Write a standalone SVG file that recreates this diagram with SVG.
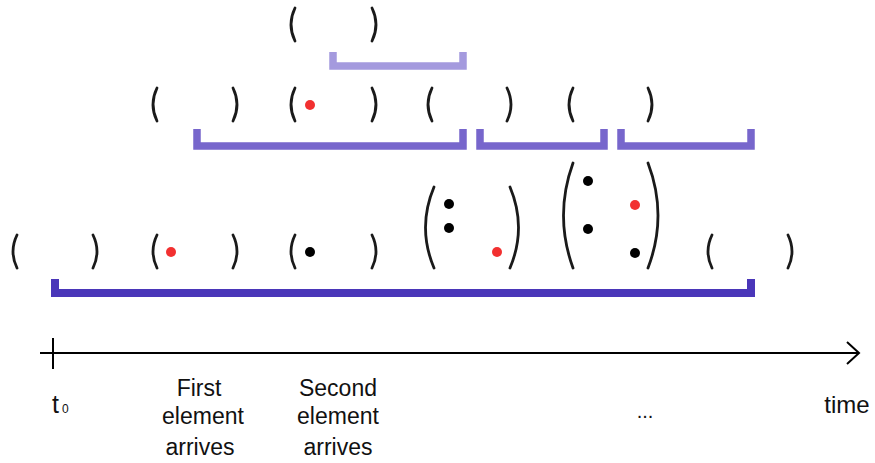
<svg xmlns="http://www.w3.org/2000/svg" width="875" height="463" viewBox="0 0 875 463">
<style>
.p{fill:none;stroke:#1a1a1a;stroke-width:2.8;stroke-linecap:round}
.br{fill:none;stroke-linejoin:miter;stroke-linecap:butt}
.b1{stroke:#4a36b9;stroke-width:8}
.b2{stroke:#7766cc;stroke-width:7.5}
.b3{stroke:#a49ade;stroke-width:7.5}
.k{fill:#000}
.r{fill:#f23030}
.t{font-family:"Liberation Sans",Arial,sans-serif;font-size:23px;fill:#111;text-anchor:middle}
.ax{fill:none;stroke:#000;stroke-width:2}
</style>
<rect width="875" height="463" fill="#fff"/>
<g id="row-top">
<path class="p" d="M295,8 Q287,24.5 295,41"/>
<path class="p" d="M372,8 Q380,24.5 372,41"/>
</g>
<g id="row-middle">
<path class="p" d="M157,88 Q149,104.5 157,121"/>
<path class="p" d="M233,88 Q241,104.5 233,121"/>
<path class="p" d="M295,88 Q287,104.5 295,121"/>
<circle class="r" cx="310" cy="105" r="5"/>
<path class="p" d="M372,88 Q380,104.5 372,121"/>
<path class="p" d="M432,88 Q424,104.5 432,121"/>
<path class="p" d="M507,88 Q515,104.5 507,121"/>
<path class="p" d="M573,88 Q565,104.5 573,121"/>
<path class="p" d="M648,88 Q656,104.5 648,121"/>
</g>
<g id="row-bottom">
<path class="p" d="M17,235 Q9,251.5 17,268"/>
<path class="p" d="M93,235 Q101,251.5 93,268"/>
<path class="p" d="M157,235 Q149,251.5 157,268"/>
<circle class="r" cx="171" cy="252" r="5"/>
<path class="p" d="M233,235 Q241,251.5 233,268"/>
<path class="p" d="M295,235 Q287,251.5 295,268"/>
<circle class="k" cx="310" cy="252" r="5"/>
<path class="p" d="M372,235 Q380,251.5 372,268"/>
<path class="p" d="M434,187 Q417,227.5 434,268"/>
<circle class="k" cx="449" cy="204" r="5"/>
<circle class="k" cx="449" cy="228" r="5"/>
<circle class="r" cx="497" cy="252" r="5"/>
<path class="p" d="M510,187 Q527,227.5 510,268"/>
<path class="p" d="M573,163 Q554,215.5 573,268"/>
<circle class="k" cx="588" cy="181" r="5"/>
<circle class="k" cx="588" cy="229" r="5"/>
<circle class="r" cx="635" cy="205" r="5"/>
<circle class="k" cx="635" cy="253" r="5"/>
<path class="p" d="M648,163 Q668,215.5 648,268"/>
<path class="p" d="M712,235 Q704,251.5 712,268"/>
<path class="p" d="M788,235 Q796,251.5 788,268"/>
</g>
<g id="brackets">
<path class="br b3" d="M333,52 V66 H463 V52"/>
<path class="br b2" d="M197,129 V146 H463 V129"/>
<path class="br b2" d="M480,129 V146 H604 V129"/>
<path class="br b2" d="M621,129 V146 H751 V129"/>
<path class="br b1" d="M55,279 V293 H751 V279"/>
</g>
<g id="axis">
<line class="ax" x1="40" y1="353" x2="859" y2="353"/>
<line class="ax" x1="53" y1="338" x2="53" y2="369"/>
<path class="ax" d="M847,342 L859,353 L847,364"/>
</g>
<g id="labels">
<text class="t" x="52" y="413" style="text-anchor:start;font-size:25px">t<tspan font-size="12" dx="3">0</tspan></text>
<text class="t" x="199" y="396">First</text>
<text class="t" x="203" y="424">element</text>
<text class="t" x="200" y="455">arrives</text>
<text class="t" x="338" y="396">Second</text>
<text class="t" x="338" y="424">element</text>
<text class="t" x="338" y="455">arrives</text>
<text class="t" x="645" y="418" style="font-size:20px">...</text>
<text class="t" x="847" y="413" style="font-size:24px">time</text>
</g>
</svg>
